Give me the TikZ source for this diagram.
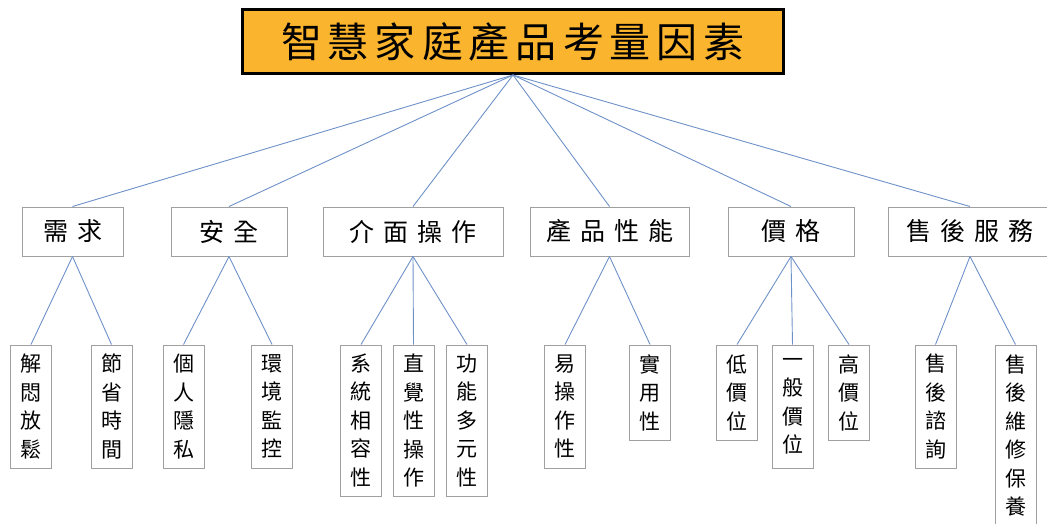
\documentclass[tikz,border=0pt]{standalone}
\usepackage{fontspec}
\setmainfont{Noto Sans CJK TC}
\definecolor{titlefill}{RGB}{250,180,45}
\definecolor{linkblue}{RGB}{110,145,200}
\definecolor{boxgray}{RGB}{160,160,160}
\newcommand\gA{\hspace{9pt}}
\newcommand\gT{\hspace{6pt}}
\tikzset{
  titlebox/.style={draw=black, line width=3pt, fill=titlefill, minimum width=541, minimum height=64, inner sep=0pt,
    font=\fontsize{41}{48}\selectfont},
  catbox/.style={draw=boxgray, line width=1pt, fill=white, minimum height=49, inner sep=0pt,
    font=\fontsize{25}{30}\selectfont},
  leafbox/.style={draw=boxgray, line width=1pt, fill=white, anchor=north, minimum width=41, inner sep=0pt,
    text width=41, align=center, font=\fontsize{21}{28.5}\selectfont},
  link/.style={draw=linkblue, line width=0.9pt}
}
\begin{document}
\begin{tikzpicture}[x=1pt,y=-1pt]
\useasboundingbox (0,0) rectangle (1047,523);
\clip (0,0) rectangle (1047,523);
% title
\node[titlebox] (T) at (513,41.5) {智\gT 慧\gT 家\gT 庭\gT 產\gT 品\gT 考\gT 量\gT 因\gT 素};
% categories
\node[catbox, minimum width=101] (C1) at (72.5,231.5) {需\gA 求};
\node[catbox, minimum width=116] (C2) at (229,231.5) {安\gA 全};
\node[catbox, minimum width=180] (C3) at (413,231.5) {介\gA 面\gA 操\gA 作};
\node[catbox, minimum width=159] (C4) at (609.5,231.5) {產\gA 品\gA 性\gA 能};
\node[catbox, minimum width=126] (C5) at (791,231.5) {價\gA 格};
\node[catbox, minimum width=164] (C6) at (970,231.5) {售\gA 後\gA 服\gA 務};
% leaves
\node[leafbox, minimum height=123] (L1) at (31,344.5) {解\\悶\\放\\鬆};
\node[leafbox, minimum height=123] (L2) at (111.5,344.5) {節\\省\\時\\間};
\node[leafbox, minimum height=123] (L3) at (183.5,344.5) {個\\人\\隱\\私};
\node[leafbox, minimum height=123] (L4) at (272,344.5) {環\\境\\監\\控};
\node[leafbox, minimum height=151] (L5) at (361,344.5) {系\\統\\相\\容\\性};
\node[leafbox, minimum height=151] (L6) at (413.5,344.5) {直\\覺\\性\\操\\作};
\node[leafbox, minimum height=151] (L7) at (467,344.5) {功\\能\\多\\元\\性};
\node[leafbox, minimum height=123] (L8) at (565,344.5) {易\\操\\作\\性};
\node[leafbox, minimum height=95] (L9) at (650,344.5) {實\\用\\性};
\node[leafbox, minimum height=95] (L10) at (737,344.5) {低\\價\\位};
\node[leafbox, minimum height=123] (L11) at (792.5,344.5) {一\\般\\價\\位};
\node[leafbox, minimum height=95] (L12) at (849,344.5) {高\\價\\位};
\node[leafbox, minimum height=123] (L13) at (935.5,344.5) {售\\後\\諮\\詢};
\node[leafbox, minimum height=181] (L14) at (1015.5,344.5) {售\\後\\維\\修\\保\\養};
% links
\foreach \c in {C1,C2,C3,C4,C5,C6} \draw[link] (T.south) -- (\c.north);
\draw[link] (C1.south) -- (L1.north);
\draw[link] (C1.south) -- (L2.north);
\draw[link] (C2.south) -- (L3.north);
\draw[link] (C2.south) -- (L4.north);
\draw[link] (C3.south) -- (L5.north);
\draw[link] (C3.south) -- (L6.north);
\draw[link] (C3.south) -- (L7.north);
\draw[link] (C4.south) -- (L8.north);
\draw[link] (C4.south) -- (L9.north);
\draw[link] (C5.south) -- (L10.north);
\draw[link] (C5.south) -- (L11.north);
\draw[link] (C5.south) -- (L12.north);
\draw[link] (C6.south) -- (L13.north);
\draw[link] (C6.south) -- (L14.north);
\end{tikzpicture}
\end{document}
